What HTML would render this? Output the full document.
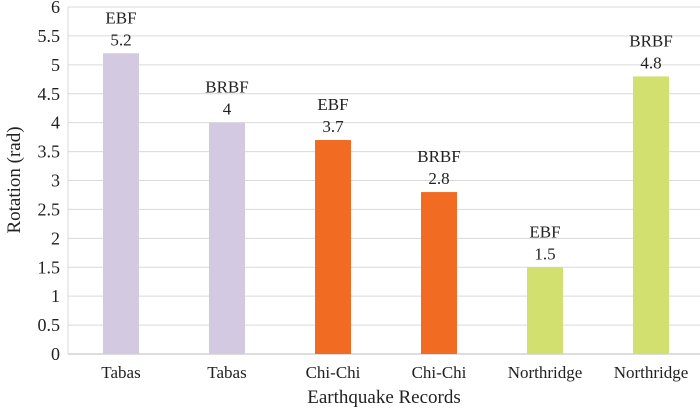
<!DOCTYPE html>
<html><head><meta charset="utf-8"><style>
html,body{margin:0;padding:0;background:#fff;}
svg text{font-family:"Liberation Serif",serif;fill:#222;}
</style></head><body>
<svg id="chart" width="700" height="409" xmlns="http://www.w3.org/2000/svg">
<g id="grid"></g>
<g id="yticks"></g>
<g id="bars"></g>
<g id="xlabels"></g>
<text x="0" y="0" transform="translate(20,180) rotate(-90)" text-anchor="middle" font-size="19">Rotation (rad)</text>
<text x="384" y="403" text-anchor="middle" font-size="19">Earthquake Records</text>
</svg>
<script>
const categories=["Tabas","Tabas","Chi-Chi","Chi-Chi","Northridge","Northridge"];
const systems=["EBF","BRBF","EBF","BRBF","EBF","BRBF"];
const values=[5.2,4,3.7,2.8,1.5,4.8];
const colors=["#d3c9e1","#d3c9e1","#f26b22","#f26b22","#d2e070","#d2e070"];
const yTicks=[0,0.5,1,1.5,2,2.5,3,3.5,4,4.5,5,5.5,6];
const NS="http://www.w3.org/2000/svg";
const left=68,right=704,y0=354,y6=7,band=106,barW=36;
function ys(v){return y0-(v/6)*(y0-y6);}
function xs(i){return left+band/2+i*band;}
function mk(tag,attrs,parent){const e=document.createElementNS(NS,tag);for(const k in attrs)e.setAttribute(k,attrs[k]);parent.appendChild(e);return e;}
const grid=document.getElementById('grid'),yt=document.getElementById('yticks'),bars=document.getElementById('bars'),xl=document.getElementById('xlabels');
yTicks.forEach(t=>{
 const l=mk('line',{x1:left,x2:right,y1:ys(t),y2:ys(t),stroke:t===0?'#bbb':'#d9d9d9','stroke-width':1},grid);
 
 
 const tx=mk('text',{x:60,y:ys(t)+6,'text-anchor':'end','font-size':18},yt);
 tx.textContent=String(t);
 
 
});
mk('line',{x1:left,x2:left,y1:y6,y2:y0,stroke:'#d9d9d9'},grid);
values.forEach((v,i)=>{
 const r=mk('rect',{x:xs(i)-barW/2,y:ys(v),width:barW,height:y0-ys(v),fill:colors[i]},bars);
 
 
 const s=mk('text',{x:xs(i),y:ys(v)-30,'text-anchor':'middle','font-size':17},bars);
 s.textContent=systems[i];
 
 
 const vl=mk('text',{x:xs(i),y:ys(v)-8,'text-anchor':'middle','font-size':17},bars);
 vl.textContent=String(v);
 
 
 const c=mk('text',{x:xs(i),y:378,'text-anchor':'middle','font-size':17},xl);
 c.textContent=categories[i];
 
 
});
</script>
</body></html>
